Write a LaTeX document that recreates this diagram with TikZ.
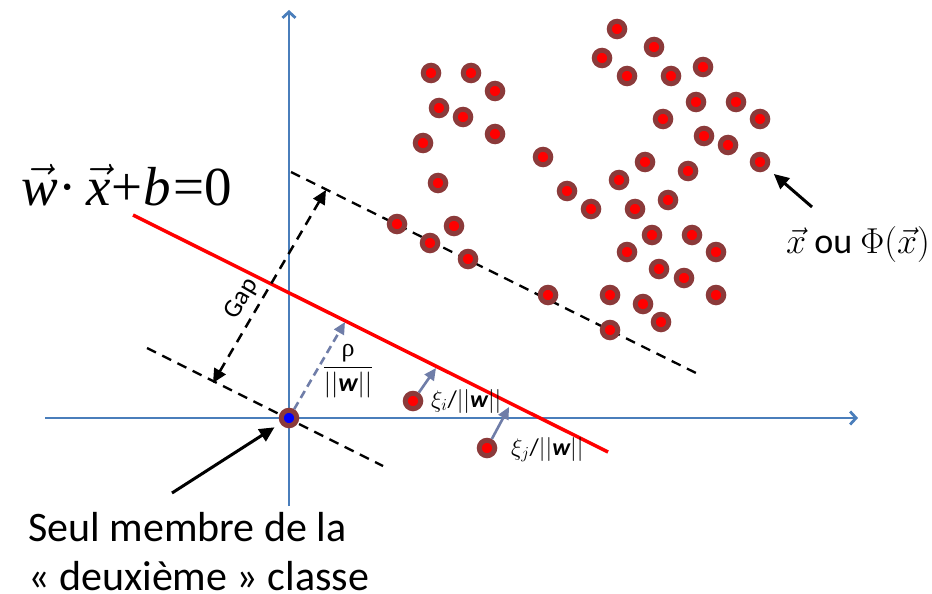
\RequirePackage{fix-cm}
\documentclass[tikz,border=0pt]{standalone}
\usepackage{fontspec}
\setmainfont{Carlito}
\newfontfamily\tms{Liberation Serif}
\usetikzlibrary{arrows.meta}
\definecolor{axisblue}{HTML}{4A7EBB}
\definecolor{ringbrown}{HTML}{8B3A3A}
\definecolor{slate}{HTML}{6F7DA8}
\tikzset{
  datapt/.style={circle, fill=red, draw=ringbrown, line width=5pt, inner sep=0pt, minimum size=15.5pt},
  axisline/.style={axisblue, line width=2.8pt, -{Straight Barb[length=6pt,width=13pt]}},
  hyper/.style={red, line width=3.5pt},
  margin/.style={black, line width=2.3pt, dash pattern=on 10pt off 7pt},
  gaparrow/.style={black, line width=2.5pt, dash pattern=on 10pt off 7pt, {Triangle[length=14pt,width=13pt]}-{Triangle[length=14pt,width=13pt]}},
  blkarrow/.style={black, line width=3pt, -{Triangle[length=15pt,width=14pt]}},
  slatearrow/.style={slate, line width=2.6pt, -{Triangle[length=12pt,width=11pt]}},
  lbl/.style={inner sep=0pt, font=\fontsize{26}{30}\selectfont},
}
\begin{document}
\begin{tikzpicture}[x=1pt,y=-1pt]
\useasboundingbox (0,0) rectangle (932,594);
% axes
\coordinate (xa0) at (45,418);
\coordinate (xa1) at (858,418);
\coordinate (ya0) at (289,506);
\coordinate (ya1) at (289,10);
\draw[axisline] (xa0) -- (xa1);
\draw[axisline] (ya0) -- (ya1);
% margins
\coordinate (u1) at (291,172);
\coordinate (u2) at (700,375);
\coordinate (l1) at (147,348);
\coordinate (l2) at (383,466);
\draw[margin] (u1) -- (u2);
\draw[margin] (l1) -- (l2);
% hyperplane
\coordinate (r1) at (133,215);
\coordinate (r2) at (608,452);
\draw[hyper] (r1) -- (r2);
% gap
\coordinate (g1) at (326,190);
\coordinate (g2) at (213,383);
\draw[gaparrow] (g2) -- node[pos=0.39, sloped, above=6pt, black, inner sep=0pt, font=\fontsize{26}{28}\selectfont]{Gap} (g1);
% dots
\foreach \p [count=\i] in {(617,29),(654,47),(602,58),(627,76),(671,76),(703,67),(431,73),(471,73),(495,91),(439,108),(463,117),(495,134),(423,143),(696,102),(736,102),(663,119),(760,119),(704,136),(728,145),(543,157),(438,183),(645,162),(688,171),(760,162),(619,180),(567,191),(591,209),(635,209),(668,200),(397,224),(454,226),(430,243),(468,259),(652,235),(692,235),(627,252),(716,252),(659,269),(684,278),(548,295),(610,295),(716,295),(643,304),(661,322),(610,330)}
  \node[datapt] (d\i) at \p {};
\node[datapt] (di) at (413,401) {};
\node[datapt] (dj) at (487,448) {};
\node[datapt, fill=blue] (o) at (289,418) {};
% rho and xi arrows
\coordinate (rp) at (345,322);
\coordinate (xi) at (436,368);
\coordinate (xj) at (509,407);
\draw[slatearrow, dash pattern=on 8pt off 5pt] (o) -- (rp);
\draw[slatearrow] (di) -- (xi);
\draw[slatearrow] (dj) -- (xj);
% labels
\node[lbl] (rho) at (348,371)
  {$\displaystyle\frac{\hbox{\tms ρ}}{||\hbox{\bfseries\itshape w}||}$};
\node[lbl, anchor=base west, font=\fontsize{24}{28}\selectfont] (xil) at (431,407)
  {$\xi_i$/$||\hbox{\bfseries\itshape w}||$};
\node[lbl, anchor=base west, font=\fontsize{24}{28}\selectfont] (xjl) at (511,455)
  {$\xi_j$/$||\hbox{\bfseries\itshape w}||$};
% equation
\node[anchor=base west, inner sep=0pt, font=\fontsize{55}{58}\selectfont] (eq) at (21,205)
  {$\vec{\hbox{\tms\itshape w}}$\kern1pt{\tms·}\kern9pt$\vec{\hbox{\tms\itshape x}}$\kern1pt{\tms+}\kern1pt{\tms\itshape b}\kern2pt{\tms=0}};
% legend
\node[anchor=base west, inner sep=0pt, font=\fontsize{36}{38}\selectfont] (leg) at (786,253)
  {$\vec{x}$ ou $\Phi(\vec{x})$};
\coordinate (la) at (812,207);
\draw[blkarrow, shorten >=8pt] (la) -- (d24);
% bottom text
\node[anchor=base west, inner sep=0pt, font=\fontsize{42}{48}\selectfont] (t1) at (28,541) {Seul membre de la};
\node[anchor=base west, inner sep=0pt, font=\fontsize{42}{48}\selectfont] (t2) at (28,590) {« deuxième » classe};
\coordinate (lb) at (172,493);
\draw[blkarrow, shorten >=7pt] (lb) -- (o);
\end{tikzpicture}
\end{document}
